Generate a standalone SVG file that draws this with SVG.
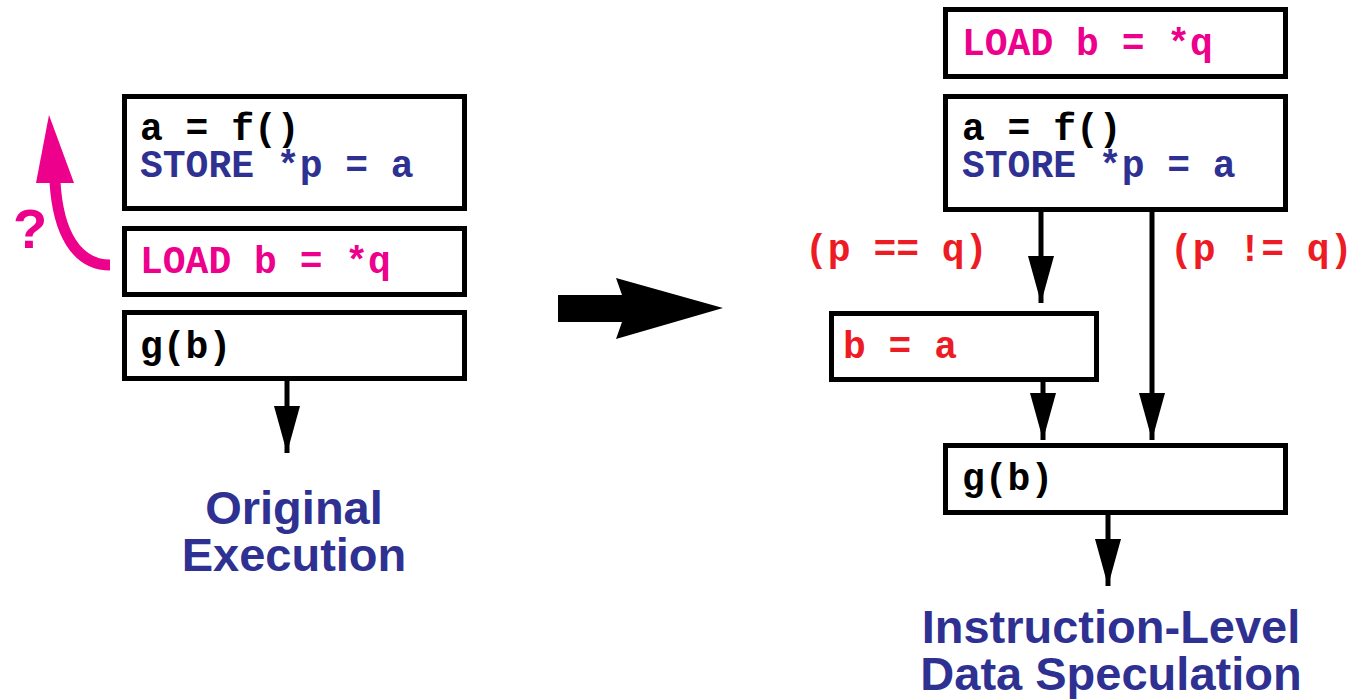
<svg xmlns="http://www.w3.org/2000/svg" width="1352" height="699" viewBox="0 0 1352 699">
<style>
.box{fill:#fff;stroke:#000;stroke-width:5}
.code{font-family:"Liberation Mono","Courier New",monospace;font-weight:bold;font-size:38px}
.blk{fill:#000}.blu{fill:#2e3192}.pnk{fill:#ec008c}.red{fill:#ed1c24}
.title{font-family:"Liberation Sans",Arial,sans-serif;font-weight:bold;font-size:47px;fill:#2e3192;text-anchor:middle}
.con{stroke:#000;stroke-width:5;fill:none;marker-end:url(#ah)}
</style>
<defs>
<marker id="ah" markerUnits="userSpaceOnUse" markerWidth="48" markerHeight="27" refX="47" refY="13" orient="auto">
<path d="M0,0 L47,13 L0,26 z" fill="#000"/>
</marker>
</defs>
<rect width="1352" height="699" fill="#fff"/>
<g id="connectors">
<line class="con" x1="287" y1="381" x2="287" y2="453"/>
<line class="con" x1="1041" y1="212" x2="1041" y2="303"/>
<line class="con" x1="1043" y1="381" x2="1043" y2="440"/>
<line class="con" x1="1152" y1="212" x2="1152" y2="440"/>
<line class="con" x1="1108" y1="515" x2="1108" y2="586"/>
<polygon points="558,295 622,295 616,278 723,308 616,339 622,322 558,322" fill="#000"/>
<path d="M110,265 C76,265 58,232 55,182" fill="none" stroke="#ec008c" stroke-width="11"/>
<polygon points="36,183 74,183 49,115" fill="#ec008c"/>
</g>
<g id="left-store">
<rect class="box" x="124.5" y="96.5" width="340" height="112"/>
<text class="code" x="140" y="140"><tspan class="blk">a = f()</tspan><tspan class="blu" x="140" dy="37">STORE *p = a</tspan></text>
</g>
<g id="left-load">
<rect class="box" x="124.5" y="228.5" width="340" height="66"/>
<text class="code pnk" x="140" y="273">LOAD b = *q</text>
</g>
<g id="left-g">
<rect class="box" x="124.5" y="312.5" width="340" height="66"/>
<text class="code blk" x="140" y="358">g(b)</text>
</g>
<g id="question"><text x="13" y="248" font-family="Liberation Sans,Arial,sans-serif" font-weight="bold" font-size="56" fill="#ec008c">?</text></g>
<g id="title-left">
<text class="title" x="294" y="524"><tspan x="294">Original</tspan><tspan x="294" dy="47">Execution</tspan></text>
</g>
<g id="right-load">
<rect class="box" x="945.5" y="9.5" width="340" height="67"/>
<text class="code pnk" x="962" y="55">LOAD b = *q</text>
</g>
<g id="right-store">
<rect class="box" x="945.5" y="96.5" width="340" height="113"/>
<text class="code" x="962" y="140"><tspan class="blk">a = f()</tspan><tspan class="blu" x="962" dy="37">STORE *p = a</tspan></text>
</g>
<g id="cond-eq"><text class="code red" x="805" y="261">(p == q)</text></g>
<g id="cond-ne"><text class="code red" x="1170" y="261">(p != q)</text></g>
<g id="right-ba">
<rect class="box" x="831.5" y="313.5" width="265" height="66"/>
<text class="code red" x="843" y="358">b = a</text>
</g>
<g id="right-g">
<rect class="box" x="945.5" y="445.5" width="340" height="67"/>
<text class="code blk" x="962" y="490">g(b)</text>
</g>
<g id="title-right">
<text class="title" x="1111" y="643"><tspan x="1111">Instruction-Level</tspan><tspan x="1111" dy="47">Data Speculation</tspan></text>
</g>
</svg>
